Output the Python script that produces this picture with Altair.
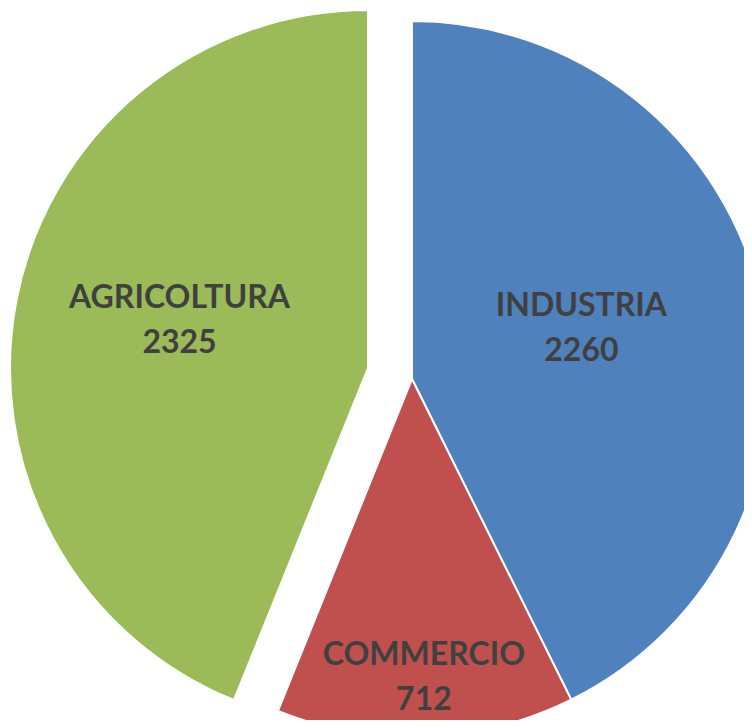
import altair as alt
import pandas as pd

categories = ["INDUSTRIA", "COMMERCIO", "AGRICOLTURA"]
values = [2260, 712, 2325]
colors = ["#4F81BD", "#C0504D", "#9BBB59"]

df = pd.DataFrame({"category": categories, "value": values, "k": list(range(len(categories)))})

W, H = 736, 712
CX, CY = 404, 371
R = 358

base = alt.Chart(df).transform_calculate(
    cx=f"{CX} + (datum.category == 'AGRICOLTURA' ? -44 : 0)",
    cy=f"{CY} + (datum.category == 'AGRICOLTURA' ? -11 : 0)",
)

pos = dict(
    x=alt.X("cx:Q", scale=None, axis=None),
    y=alt.Y("cy:Q", scale=None, axis=None),
)

arcs = base.mark_arc(outerRadius=R, stroke="white", strokeWidth=2).encode(
    theta=alt.Theta("value:Q", stack=True),
    order=alt.Order("k:Q"),
    color=alt.Color("category:N", scale=alt.Scale(domain=categories, range=colors), legend=None),
    **pos,
)

labels = base.transform_window(
    cum="sum(value)", sort=[alt.SortField("k")], frame=[None, 0]
).transform_calculate(
    mid="datum.cum - datum.value / 2",
    lr="datum.category == 'COMMERCIO' ? 309 : (datum.category == 'AGRICOLTURA' ? 192 : 174)",
    label="datum.category + '\\n' + datum.value",
).mark_text(
    font="Lato", fontWeight="bold", fontSize=32, color="#404040",
    lineBreak="\n", lineHeight=45, align="center", baseline="middle", dy=-33,
).encode(
    theta=alt.Theta("mid:Q", stack=None),
    radius=alt.Radius("lr:Q", scale=None),
    text="label:N",
    **pos,
)

chart = alt.layer(arcs, labels).properties(
    width=W, height=H, padding=0,
    autosize=alt.AutoSizeParams(type="none"),
).configure_view(stroke=None)

chart.save("out.html", embed_options={"renderer": "svg", "actions": False})
